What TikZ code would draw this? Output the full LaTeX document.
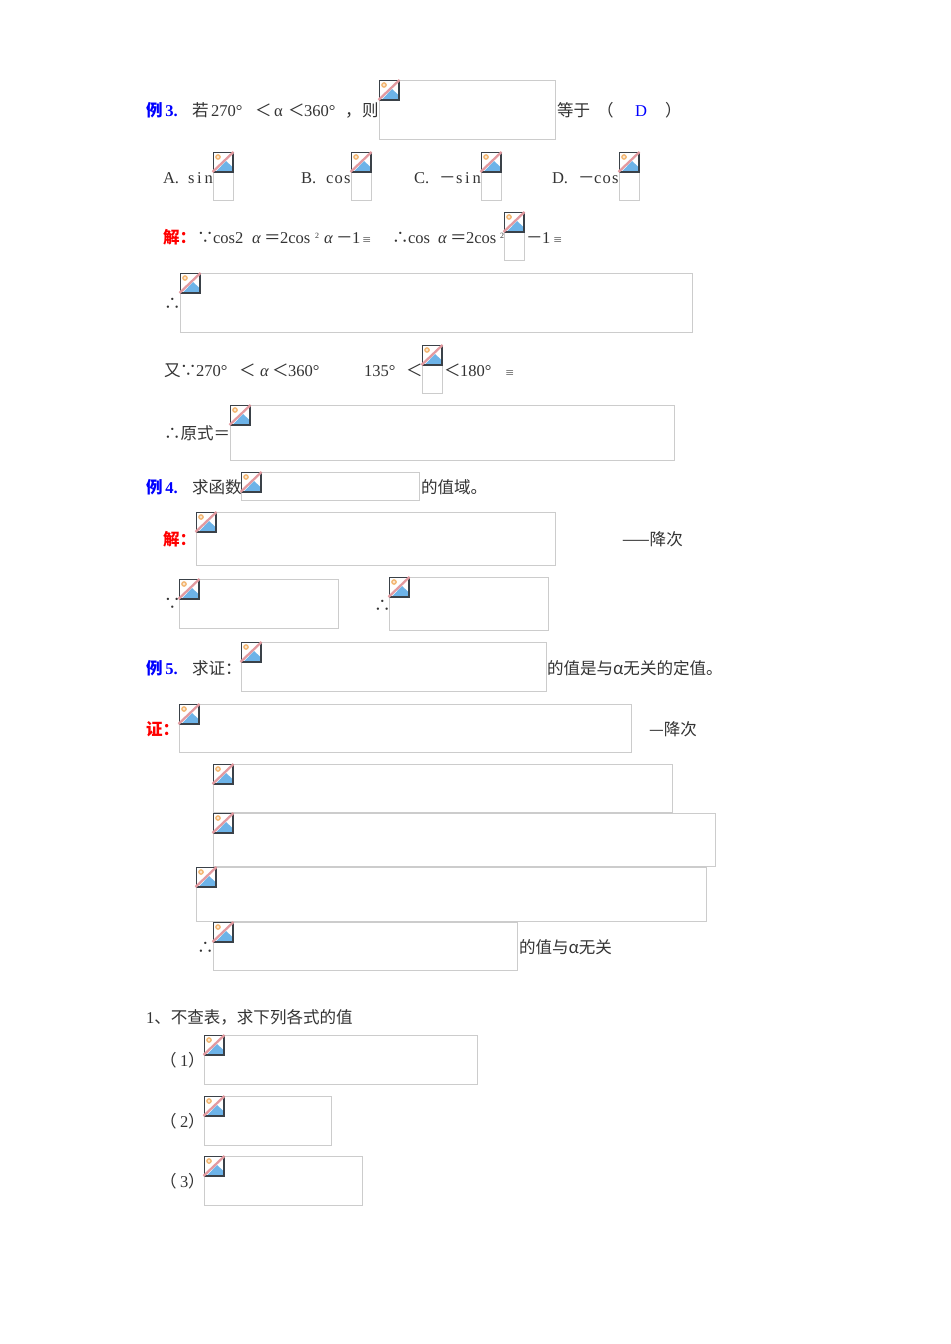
\documentclass[tikz,border=0pt]{standalone}
\usepackage{fontspec}
\setmainfont{Noto Sans CJK SC}
\newfontfamily\latn{Liberation Serif}
\newcommand{\lt}[1]{{\latn #1}}
\newcommand{\ta}{{\latn\itshape α}}
\newcommand{\spcos}{{\latn c\kern0.9pt o\kern1pt s}}
\definecolor{frameg}{HTML}{CCCCCC}
\definecolor{icondark}{HTML}{3A4148}
\definecolor{iconblue}{HTML}{6DB3E8}
\definecolor{iconred}{HTML}{E39AA0}
\definecolor{iconsun}{HTML}{F2B36B}
\definecolor{txt}{HTML}{333333}
\tikzset{
  x=0.75pt,y=-0.75pt,
  tx/.style={anchor=base west,inner sep=0pt,outer sep=0pt,text=txt,font=\fontsize{12.4}{14}\selectfont},
  blu/.style={tx,text=blue,font=\fontsize{12.4}{14}\selectfont\bfseries},
  rd/.style={tx,text=red,font=\fontsize{12.4}{14}\selectfont\bfseries},
  bx/.style={draw=frameg,line width=0.7pt,fill=white},
}
% placeholder: top-left corner, bottom-right corner
\newcommand{\ph}[4]{%
  \draw[bx] (#1,#2) rectangle ({#3-0.7},{#4-0.7});
  \begin{scope}[shift={(#1,#2)}]
    \fill[white] (0.5,0.5) rectangle (20,20);
    \fill[iconblue] (3,19.5) -- (13,9) -- (19.5,15) -- (19.5,19.5) -- cycle;
    \draw[iconsun,line width=0.9pt,fill=iconsun!35] (5,5) circle (2.2);
    \draw[icondark,line width=0.9pt] (0.5,0.5) rectangle (20,20);
    \draw[iconred,line width=1.7pt] (-0.5,20) -- (20.5,0);
  \end{scope}}
\newcommand{\tinyeq}[2]{\node[tx,font=\fontsize{7}{8}\selectfont] at (#1,#2) {≡};}
\newcommand{\exnum}[2]{%
  \node[tx] at (160,#1) {（};
  \node[tx] at (180,#1) {\lt{#2}};
  \node[tx] at (188,#1) {）};}
\begin{document}
\begin{tikzpicture}
\useasboundingbox (0,0) rectangle (950,1344);
\fill[white] (0,0) rectangle (950,1344);
% boxes
\ph{379}{80}{556}{140}
\ph{213}{152}{234}{201}
\ph{351}{152}{372}{201}
\ph{481}{152}{502}{201}
\ph{619}{152}{640}{201}
\ph{504}{212}{525}{261}
\ph{180}{273}{693}{333}
\ph{422}{345}{443}{394}
\ph{230}{405}{675}{461}
\ph{241}{472}{420}{501}
\ph{196}{512}{556}{566}
\ph{179}{579}{339}{629}
\ph{389}{577}{549}{631}
\ph{241}{642}{547}{692}
\ph{179}{704}{632}{753}
\ph{213}{764}{673}{813}
\ph{213}{813}{716}{867}
\ph{196}{867}{707}{922}
\ph{213}{922}{518}{971}
\ph{204}{1035}{478}{1085}
\ph{204}{1096}{332}{1146}
\ph{204}{1156}{363}{1206}
\begin{scope}[yshift=-0.9pt]
% example 3
\node[blu] (e3) at (146,115) {例\lt{\bfseries\,3.}};
\node[tx] at (192,115) {若};
\node[tx] at (211,115) {\lt{270°}};
\node[tx] at (255,115) {＜};
\node[tx] at (274,115) {\lt{α}};
\node[tx] at (288,115) {＜};
\node[tx] at (304,115) {\lt{360°}};
\node[tx] at (345,115) {，};
\node[tx] at (362,115) {则};
\node[tx] at (557,115) {等于};
\node[tx] at (597,115) {（};
\node[tx,text=blue] at (635,115) {\lt{D}};
\node[tx] at (665,115) {）};
\node[tx] at (163,182) {\lt{A.}};
\node[tx] at (188,182) {\lt{s\,i\,n}};
\node[tx] at (301,182) {\lt{B.}};
\node[tx] at (326,182) {\spcos};
\node[tx] at (414,182) {\lt{C.}};
\node[tx] at (439,182) {－};
\node[tx] at (456,182) {\lt{s\,i\,n}};
\node[tx] at (552,182) {\lt{D.}};
\node[tx] at (578,182) {－};
\node[tx] at (594,182) {\spcos};
% solution
\node[rd] at (163,242) {解：};
\node[tx] at (197,242) {∵};
\node[tx] at (213,242) {\lt{cos2}};
\node[tx] at (252,242) {\ta};
\node[tx] at (264,242) {＝};
\node[tx] at (280,242) {\lt{2cos}};
\node[tx,font=\fontsize{6}{7}\selectfont] at (315,237) {\lt{2}};
\node[tx] at (324,242) {\ta};
\node[tx] at (336,242) {－};
\node[tx] at (352,242) {\lt{1}};
\tinyeq{362}{242}
\node[tx] at (392,242) {∴};
\node[tx] at (408,242) {\lt{cos}};
\node[tx] at (438,242) {\ta};
\node[tx] at (450,242) {＝};
\node[tx] at (466,242) {\lt{2cos}};
\node[tx,font=\fontsize{6}{7}\selectfont] at (500,237) {\lt{2}};
\node[tx] at (526,242) {－};
\node[tx] at (542,242) {\lt{1}};
\tinyeq{553}{242}
\node[tx] at (164,308) {∴};
\node[tx] at (164,375) {又};
\node[tx] at (180,375) {∵};
\node[tx] at (196,375) {\lt{270°}};
\node[tx] at (239,375) {＜};
\node[tx] at (260,375) {\ta};
\node[tx] at (272,375) {＜};
\node[tx] at (288,375) {\lt{360°}};
\node[tx] at (364,375) {\lt{135°}};
\node[tx] at (406,375) {＜};
\node[tx] at (444,375) {＜};
\node[tx] at (460,375) {\lt{180°}};
\tinyeq{505}{375}
\node[tx] at (164,438) {∴原式＝};
% example 4
\node[blu] at (146,492) {例\lt{\bfseries\,4.}};
\node[tx] at (192,492) {求函数};
\node[tx] at (421,492) {的值域。};
\node[rd] at (163,544) {解：};
\node[tx] at (622,544) {——降次};
\node[tx] at (164,608) {∵};
\node[tx] at (374,610) {∴};
% example 5
\node[blu] at (146,673) {例\lt{\bfseries\,5.}};
\node[tx] at (192,673) {求证：};
\node[tx] at (547,673) {的值是与α无关的定值。};
\node[rd] at (146,734) {证：};
\node[tx] at (649,734) {—降次};
\node[tx] at (197,952) {∴};
\node[tx] at (519,952) {的值与α无关};
% exercise
\node[tx] at (146,1022) {\lt{1}、不查表，求下列各式的值};
\exnum{1065}{1}
\exnum{1126}{2}
\exnum{1186}{3}
\end{scope}
\end{tikzpicture}
\end{document}
